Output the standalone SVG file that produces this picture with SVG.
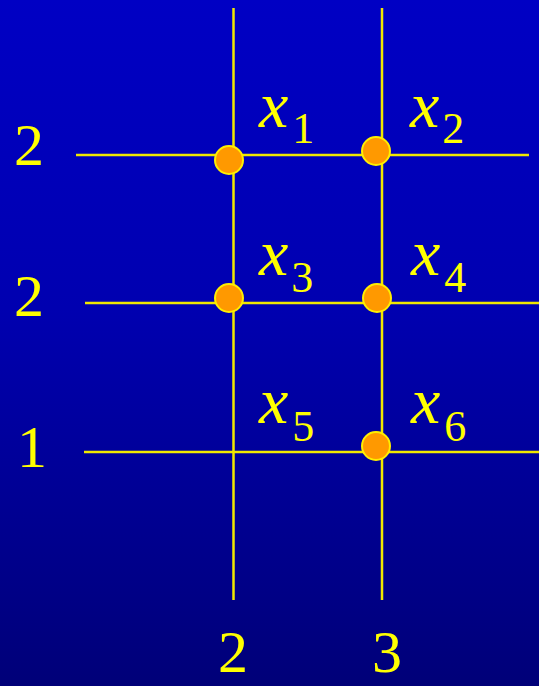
<svg xmlns="http://www.w3.org/2000/svg" width="539" height="686" viewBox="0 0 539 686">
<defs>
<linearGradient id="bg" x1="0" y1="0" x2="0" y2="1">
<stop offset="0" stop-color="#0000c4"/>
<stop offset="0.45" stop-color="#0000b0"/>
<stop offset="1" stop-color="#000078"/>
</linearGradient>
<style>
.ln{stroke:#f0e800;stroke-width:2.5;fill:none}
.dot{fill:#ff9900;stroke:#ffee00;stroke-width:2}
.num{font-family:"Liberation Serif",serif;font-size:60px;fill:#ffff00}
.var{font-family:"Liberation Serif",serif;font-size:66px;font-style:italic;fill:#ffff00}
.sub{font-family:"Liberation Serif",serif;font-size:44px;font-style:normal;fill:#ffff00}
</style>
</defs>
<rect width="539" height="686" fill="url(#bg)"/>
<g id="connectors">
<line class="ln" x1="233.5" y1="8" x2="233.5" y2="600"/>
<line class="ln" x1="382" y1="8" x2="382" y2="600"/>
<line class="ln" x1="76" y1="155" x2="529" y2="155"/>
<line class="ln" x1="85" y1="303" x2="539" y2="303"/>
<line class="ln" x1="84" y1="452" x2="539" y2="452"/>
</g>
<g id="labels">
<text class="num" x="14" y="165">2</text>
<text class="num" x="14" y="316">2</text>
<text class="num" x="17" y="467">1</text>
<text class="num" x="218" y="672">2</text>
<text class="num" x="372" y="672">3</text>
</g>
<g id="x1"><circle class="dot" cx="229" cy="160" r="14"/><text class="var" x="259" y="127">x<tspan class="sub" dx="4" dy="16">1</tspan></text></g>
<g id="x2"><circle class="dot" cx="376" cy="151" r="14"/><text class="var" x="410" y="127">x<tspan class="sub" dx="3" dy="16">2</tspan></text></g>
<g id="x3"><circle class="dot" cx="229" cy="298" r="14"/><text class="var" x="259" y="275">x<tspan class="sub" dx="3" dy="17">3</tspan></text></g>
<g id="x4"><circle class="dot" cx="377" cy="298" r="14"/><text class="var" x="411" y="275">x<tspan class="sub" dx="4" dy="17">4</tspan></text></g>
<g id="x5"><text class="var" x="259" y="423">x<tspan class="sub" dx="4" dy="18">5</tspan></text></g>
<g id="x6"><circle class="dot" cx="376" cy="446" r="14"/><text class="var" x="411" y="423">x<tspan class="sub" dx="4" dy="18">6</tspan></text></g>
</svg>
